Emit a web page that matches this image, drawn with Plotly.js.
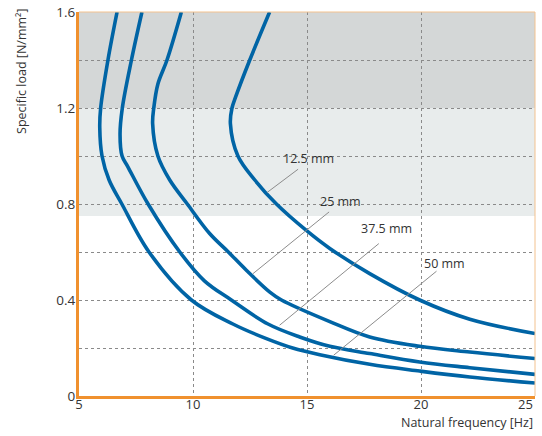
<!DOCTYPE html>
<html>
<head>
<meta charset="utf-8">
<script src="https://cdn.plot.ly/plotly-3.0.1.min.js"></script>
<style>html,body{margin:0;padding:0;background:#fff;}#chart{width:542px;height:436px;}</style>
</head>
<body>
<div id="chart"></div>
<script>
// Natural frequency [Hz] vs specific load [N/mm²] for four thicknesses
const freq50  = [6.67, 6.27, 5.95, 5.91, 6.01, 6.32, 6.88, 8.07, 9.93, 11.75, 13.22, 14.37, 15.56, 17.75, 19.94, 22.14, 25];
const load50  = [1.6, 1.4, 1.2, 1.12, 1.0, 0.9, 0.8, 0.6, 0.4, 0.30, 0.239, 0.2, 0.172, 0.132, 0.104, 0.079, 0.054];

const freq375 = [7.76, 7.30, 6.90, 6.80, 6.89, 7.15, 8.03, 9.42, 10.5, 11.68, 13.29, 14.68, 16.0, 17.75, 19.94, 22.14, 25];
const load375 = [1.6, 1.4, 1.2, 1.09, 1.0, 0.954, 0.8, 0.6, 0.48, 0.4, 0.30, 0.246, 0.207, 0.177, 0.142, 0.118, 0.09];

const freq25  = [9.49, 8.86, 8.46, 8.28, 8.23, 8.46, 8.98, 9.75, 10.73, 11.55, 12.34, 13.37, 13.88, 16.0, 17.75, 19.94, 22.14, 25];
const load25  = [1.6, 1.4, 1.3, 1.2, 1.135, 1.0, 0.9, 0.8, 0.677, 0.6, 0.524, 0.433, 0.4, 0.31, 0.246, 0.207, 0.183, 0.156];

const freq125 = [13.36, 12.49, 11.87, 11.71, 11.64, 11.97, 12.71, 13.66, 14.97, 16.0, 17.75, 19.94, 22.14, 25];
const load125 = [1.6, 1.4, 1.246, 1.2, 1.135, 1.0, 0.9, 0.8, 0.69, 0.615, 0.51, 0.40, 0.32, 0.26];

// Curve labels and their leader lines (text position, line start, line end)
const labelTexts = ["12.5 mm", "25 mm", "37.5 mm", "50 mm"];
const labelX = [15.05, 16.47, 18.49, 21.01];
const labelY = [0.99, 0.811, 0.697, 0.553];
const leaderX0 = [14.61, 15.97, 18.15, 20.68];
const leaderY0 = [0.945, 0.767, 0.635, 0.52];
const leaderX1 = [13.25, 12.62, 13.80, 16.17];
const leaderY1 = [0.848, 0.509, 0.295, 0.170];

// Shaded load zones
const bandLow = [0.75, 1.2];
const bandHigh = [1.2, 1.6];
const bandColors = ["#e8ecec", "#d4d7d7"];

// Axis ticks
const xTicks = [5, 10, 15, 20, 25];
const xTickText = ["5", "10", "15", "20", ""];
const xLastTick = "25";
const yTickVals = [0, 0.2, 0.4, 0.6, 0.8, 1.0, 1.2, 1.4, 1.6];
const yTickText = ["0", "", "0.4", "", "0.8", "", "1.2", "", "1.6"];

const FONT = "Open Sans, DejaVu Sans, sans-serif";
const BLUE = "#0064a5";
const ORANGE = "#f0912e";

const series = [[freq50, load50], [freq375, load375], [freq25, load25], [freq125, load125]];
const traces = series.map(s => ({
  x: s[0], y: s[1], type: "scatter", mode: "lines",
  line: {color: BLUE, width: 3.6, shape: "spline", smoothing: 1},
  hoverinfo: "skip", showlegend: false
}));

const shapes = [];
for (let i = 0; i < bandLow.length; i++) {
  shapes.push({type: "rect", xref: "paper", yref: "y", x0: 0, x1: 1, y0: bandLow[i], y1: bandHigh[i],
    fillcolor: bandColors[i], line: {width: 0}, layer: "below"});
}
for (let i = 0; i < labelTexts.length; i++) {
  shapes.push({type: "line", xref: "x", yref: "y", x0: leaderX0[i], y0: leaderY0[i], x1: leaderX1[i], y1: leaderY1[i],
    line: {color: "#8c8c8c", width: 1}, layer: "above"});
}
// thin top and right border
shapes.push({type: "line", xref: "paper", yref: "paper", x0: 0, x1: 1, y0: 1, y1: 1, line: {color: "#f3c28f", width: 1}});
shapes.push({type: "line", xref: "paper", yref: "paper", x0: 1, x1: 1, y0: 0, y1: 1, line: {color: "#f3c28f", width: 1}});

const annotations = labelTexts.map((t, i) => ({
  x: labelX[i], y: labelY[i], xref: "x", yref: "y", text: t, showarrow: false,
  font: {family: FONT, size: 12.5, color: "#333"}, xanchor: "center", yanchor: "middle"
}));
annotations.push({xref: "paper", yref: "paper", x: -0.125, y: 0.844, text: "Specific load [N/mm²]",
  textangle: -90, showarrow: false, font: {family: FONT, size: 12.5, color: "#333"}, xanchor: "center", yanchor: "middle"});
annotations.push({xref: "paper", yref: "paper", x: 1.0, y: -0.069, text: "Natural frequency [Hz]",
  showarrow: false, font: {family: FONT, size: 12.5, color: "#333"}, xanchor: "right", yanchor: "middle"});
// last x tick label, kept inside the page (right-aligned to the axis end)
annotations.push({xref: "x", yref: "paper", x: 25, y: -0.022, text: xLastTick, showarrow: false,
  font: {family: FONT, size: 13, color: "#333"}, xanchor: "right", yanchor: "middle"});

const layout = {
  width: 542, height: 436,
  margin: {l: 79, r: 7, t: 12, b: 40},
  paper_bgcolor: "#fff", plot_bgcolor: "#fff",
  font: {family: FONT, size: 13, color: "#333"},
  xaxis: {range: [5, 25], tickvals: xTicks, ticktext: xTickText, showgrid: true,
    gridcolor: "#8a8a8a", griddash: "dot", gridwidth: 1, zeroline: false,
    showline: true, linecolor: ORANGE, linewidth: 3, ticks: "", ticklen: 0, ticklabelstandoff: -6,
    fixedrange: true, tickfont: {family: FONT, size: 13, color: "#333"}},
  yaxis: {range: [0, 1.6], tickvals: yTickVals, ticktext: yTickText, showgrid: true,
    gridcolor: "#8a8a8a", griddash: "dot", gridwidth: 1, zeroline: false,
    showline: true, linecolor: ORANGE, linewidth: 3, ticks: "", ticklen: 0, ticklabelstandoff: -2,
    fixedrange: true, tickfont: {family: FONT, size: 13.5, color: "#333"}},
  shapes: shapes,
  annotations: annotations,
  showlegend: false
};

Plotly.newPlot("chart", traces, layout, {displayModeBar: false, staticPlot: true});
</script>
</body>
</html>
